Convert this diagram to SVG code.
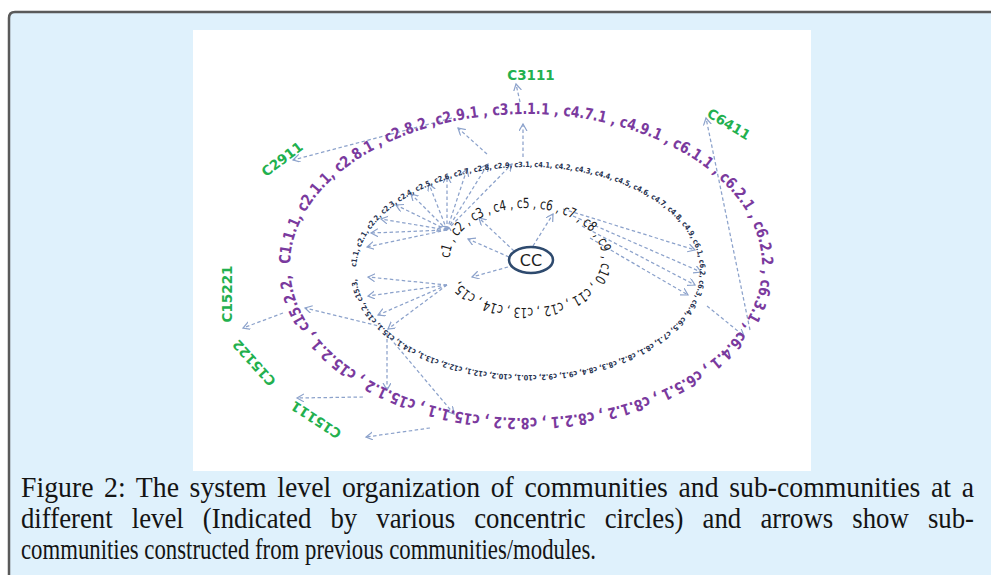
<svg xmlns="http://www.w3.org/2000/svg" width="991" height="575" viewBox="0 0 991 575">
<style>
.cap{font-family:"Liberation Serif",serif;font-size:30px;fill:#141414}
.r1{font-family:"DejaVu Sans",sans-serif;font-size:14px;fill:#1a1a1a}
.r2{font-family:"DejaVu Sans",sans-serif;font-weight:bold;font-size:7.5px;fill:#26314f}
.r3{font-family:"DejaVu Sans",sans-serif;font-weight:bold;font-size:15.5px;fill:#7a3a9e}
.g{font-family:"DejaVu Sans",sans-serif;font-weight:bold;font-size:13.5px;fill:#22b04e}
.c line,.c path{stroke:#8ca2cb;stroke-width:1.25;stroke-dasharray:3.5 2.5;fill:none}
.c line{marker-end:url(#ah)}
</style>
<defs>
<marker id="ah" markerWidth="10" markerHeight="10" refX="7" refY="4" orient="auto" markerUnits="userSpaceOnUse">
<path d="M0,0 L7,4 L0,8" fill="none" stroke="#8ca2cb" stroke-width="1.2"/>
</marker>
<path id="p1" d="M450,258 A76,50 0 1 1 602,258 A76,50 0 1 1 450,258"/>
<path id="p2" d="M356,271 A172,104 0 1 1 700,271 A172,104 0 1 1 356,271"/>
<path id="p3" d="M290,266 A236,152 0 1 1 762,266 A236,152 0 1 1 290,266"/>
</defs>
<rect x="0" y="0" width="991" height="575" fill="#ffffff"/>
<path d="M9,575 V18 Q9,12 15,12 H991 V575 Z" fill="#dff1fc"/>
<path d="M9,575 V18 Q9,12 15,12 H991" fill="none" stroke="#5a5a5a" stroke-width="2.5"/>
<rect x="193" y="30" width="618" height="441" fill="#ffffff"/>

<g class="c" id="connectors">
<line x1="533" y1="246" x2="553" y2="214"/>
<line x1="514" y1="251" x2="479" y2="218"/>
<line x1="509" y1="257" x2="468" y2="239"/>
<line x1="508" y1="267" x2="472" y2="277"/>
<path d="M437,232 A7,5 0 0 1 451,231" style="stroke-dasharray:none"/>
<line x1="447" y1="230" x2="367" y2="247"/>
<line x1="447" y1="230" x2="371" y2="233"/>
<line x1="447" y1="230" x2="381" y2="219"/>
<line x1="447" y1="230" x2="396" y2="205"/>
<line x1="447" y1="230" x2="411" y2="194"/>
<line x1="447" y1="230" x2="429" y2="184"/>
<line x1="447" y1="230" x2="447" y2="176"/>
<line x1="447" y1="230" x2="467" y2="169"/>
<line x1="447" y1="230" x2="488" y2="164"/>
<line x1="447" y1="230" x2="512" y2="164"/>
<line x1="523" y1="157" x2="523" y2="124"/>
<line x1="520" y1="102" x2="516" y2="84"/>
<line x1="487" y1="154" x2="458" y2="128"/>
<line x1="452" y1="118" x2="293" y2="160"/>
<line x1="563" y1="209" x2="695" y2="250"/>
<line x1="573" y1="216" x2="701" y2="272"/>
<line x1="582" y1="226" x2="695" y2="285"/>
<line x1="590" y1="238" x2="688" y2="295"/>
<line x1="707" y1="306" x2="744" y2="336"/>
<line x1="750" y1="330" x2="706" y2="118"/>
<line x1="447" y1="285" x2="368" y2="277"/>
<line x1="447" y1="285" x2="368" y2="296"/>
<line x1="447" y1="285" x2="378" y2="315"/>
<line x1="447" y1="285" x2="388" y2="329"/>
<line x1="383" y1="327" x2="305" y2="308"/>
<line x1="283" y1="313" x2="243" y2="328"/>
<line x1="387" y1="333" x2="387" y2="390"/>
<line x1="390" y1="338" x2="454" y2="414"/>
<line x1="363" y1="397" x2="297" y2="398"/>
<line x1="430" y1="428" x2="366" y2="437"/>
</g>

<g id="ring1">
<text class="r1"><textPath href="#p1" textLength="374" lengthAdjust="spacingAndGlyphs">c1 , c2 , c3 , c4 , c5 , c6 , c7 , c8 , c9 , c10 , c11 , c12 , c13 , c14 , c15,</textPath></text>
</g>
<g id="ring2">
<text class="r2"><textPath href="#p2" startOffset="4" textLength="868" lengthAdjust="spacingAndGlyphs">c1.1, c2.1, c2.2, c2.3, c2.4, c2.5, c2.6, c2.7, c2.8, c2.9, c3.1, c4.1, c4.2, c4.3, c4.4, c4.5, c4.6, c4.7, c4.8, c4.9, c6.1, c6.2, c6.3, c6.4, c6.5, c7.1, c8.1, c8.2, c8.3, c8.4, c9.1, c9.2, c10.1, c10.2, c12.1, c12.2, c13.1, c14.1, c15.1, c15.2, c15.3,</textPath></text>
</g>
<g id="ring3">
<text class="r3"><textPath href="#p3" startOffset="2" textLength="1222" lengthAdjust="spacingAndGlyphs">C1.1.1, c2.1.1, c2.8.1 , c2.8.2 ,c2.9.1 , c3.1.1.1 , c4.7.1 , c4.9.1 , c6.1.1 , c6.2.1 , c6.2.2 , c6.3.1 , c6.4.1 , c6.5.1 , c8.1.2 , c8.2.1 , c8.2.2 , c15.1.1 , c15.1.2 , c15.2.1 , c15.2.2,</textPath></text>
</g>

<g id="cc">
<ellipse cx="531" cy="260" rx="22" ry="13" fill="#ffffff" stroke="#2e4a6e" stroke-width="2.5"/>
<text x="531" y="266" text-anchor="middle" style="font-family:'DejaVu Sans',sans-serif;font-size:16px;fill:#1e1e1e">CC</text>
</g>

<g id="C3111"><text class="g" x="531" y="80" text-anchor="middle">C3111</text></g>
<g id="C6411"><text class="g" transform="translate(729,124) rotate(31)" text-anchor="middle" dominant-baseline="central">C6411</text></g>
<g id="C2911"><text class="g" transform="translate(282,159) rotate(-37)" text-anchor="middle" dominant-baseline="central">C2911</text></g>
<g id="C15221"><text class="g" transform="translate(227,294) rotate(-90)" text-anchor="middle" dominant-baseline="central">C15221</text></g>
<g id="C15122"><text class="g" transform="translate(254,363) rotate(228)" text-anchor="middle" dominant-baseline="central">C15122</text></g>
<g id="C15111"><text class="g" transform="translate(316,420) rotate(213)" text-anchor="middle" dominant-baseline="central">C15111</text></g>

<g id="caption">
<text class="cap" x="21" y="497" textLength="953" lengthAdjust="spacingAndGlyphs" style="word-spacing:4px">Figure 2: The system level organization of communities and sub-communities at a</text>
<text class="cap" x="21" y="528" textLength="953" lengthAdjust="spacingAndGlyphs" style="word-spacing:14px">different level (Indicated by various concentric circles) and arrows show sub-</text>
<text class="cap" x="21" y="559" textLength="575" lengthAdjust="spacingAndGlyphs">communities constructed from previous communities/modules.</text>
</g>
</svg>
